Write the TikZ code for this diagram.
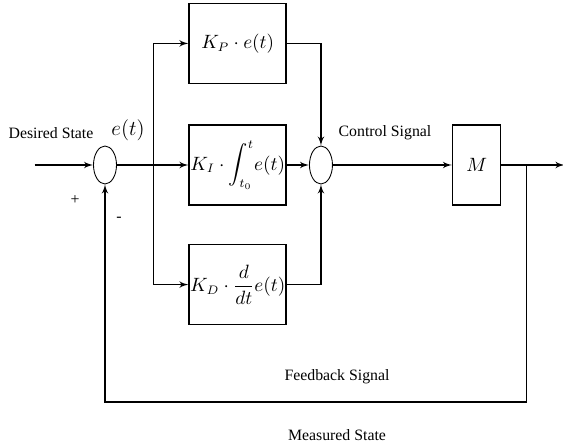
\documentclass[tikz,border=0pt]{standalone}
\usepackage{amsmath}
\usepackage{fontspec}
\setmainfont{Liberation Serif}
\usetikzlibrary{shapes.geometric, arrows, positioning}

\begin{document}
\begin{tikzpicture}[auto,
    block/.style={rectangle, draw, line width=0.9pt, minimum width=1.94cm, minimum height=1.6cm, inner sep=0pt, font=\fontsize{10.5}{12}\selectfont},
    sum/.style={ellipse, draw, line width=0.5pt, minimum width=0.46cm, minimum height=0.76cm, inner sep=0pt},
    line/.style={draw, -latex', line width=0.8pt},
    lbl/.style={font=\fontsize{9}{11}\selectfont, inner sep=1pt}]

    \useasboundingbox (0,0) rectangle (11.26,-8.96);

    \node [sum] (sum1) at (2.10,-3.30) {};
    \coordinate [left=1.17cm of sum1] (in);
    \node [block, right=1.43cm of sum1] (ki) {$K_I\cdot\displaystyle\int_{t_0}^{t}\! e(t)$};
    \node [block, above=0.80cm of ki] (kp) {$K_P\cdot e(t)$};
    \node [block, below=0.76cm of ki] (kd) {$K_D\cdot\dfrac{d}{dt}e(t)$};
    \node [sum, right=0.44cm of ki] (sum2) {};
    \node [block, minimum width=0.96cm, right=2.38cm of sum2] (m) {$M$};
    \coordinate [right=0.73cm of sum1] (br);
    \coordinate [right=1.26cm of m] (out);
    \coordinate [right=0.50cm of m] (split);
    \coordinate [below=4.74cm of split] (fb);

    % labels
    \node [lbl] (desired) at (1.02,-2.66) {Desired State};
    \node [font=\large] (err) at (2.56,-2.60) {$e(t)$};
    \node [lbl] (plus) at (1.50,-4.00) {+};
    \node [lbl] (minus) at (2.38,-4.38) {-};
    \node [lbl] (ctrl) at (7.70,-2.66) {Control Signal};
    \node [lbl] (fbsig) at (6.74,-7.54) {Feedback Signal};
    \node [lbl] (meas) at (6.74,-8.70) {Measured State};

    \path [line] (in) -- (sum1);
    \path [line] (sum1) -- (ki);
    \path [line] (br) |- (kp);
    \path [line] (br) |- (kd);
    \path [line] (kp) -| (sum2);
    \path [line] (ki) -- (sum2);
    \path [line] (kd) -| (sum2);
    \path [line] (sum2) -- (m);
    \path [line] (m) -- (out);
    \path [line] (split) -- (fb) -| (sum1);
\end{tikzpicture}
\end{document}
